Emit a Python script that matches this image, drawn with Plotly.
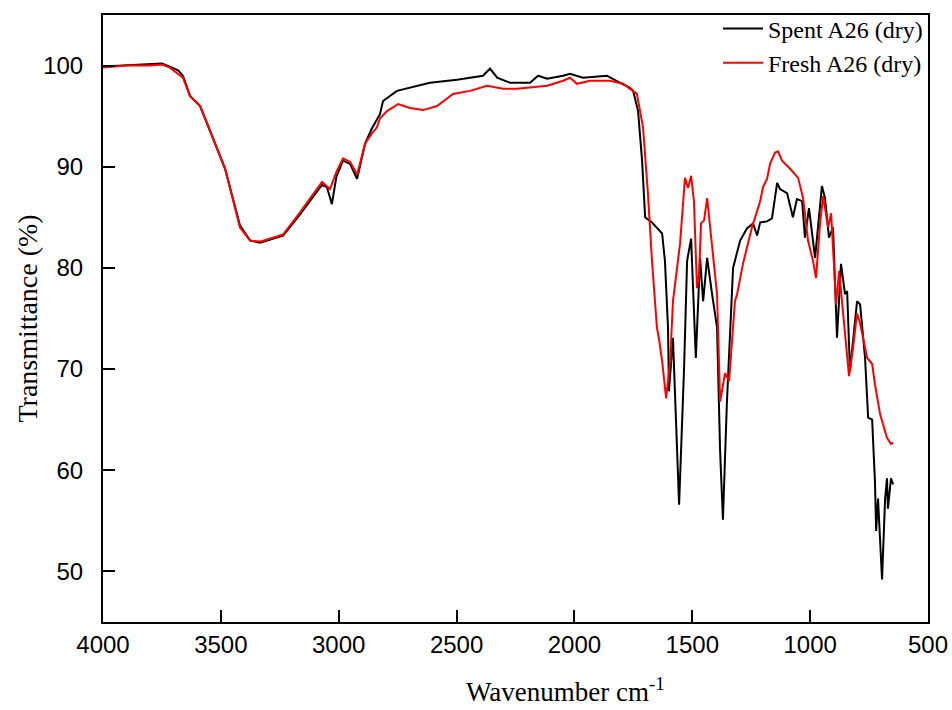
import plotly.graph_objects as go

# Spent A26 (dry) - black
spent_wn = [4000, 3900, 3800, 3750, 3716, 3680, 3661, 3631, 3588, 3546, 3482, 3419, 3376, 3334,
            3236, 3164, 3071, 3050, 3029, 3010, 2982, 2952, 2922, 2888, 2859, 2825, 2812, 2753,
            2668, 2613, 2498, 2388, 2358, 2328, 2273, 2188, 2154, 2116, 2048, 2019, 1964, 1862,
            1806, 1764, 1751, 1730, 1713, 1700, 1671, 1628, 1616, 1603, 1599, 1582, 1556, 1535,
            1522, 1505, 1485, 1467, 1454, 1437, 1416, 1395, 1382, 1370, 1353, 1340, 1327, 1297,
            1268, 1242, 1225, 1212, 1183, 1162, 1140, 1128, 1098, 1073, 1056, 1034, 1022, 1005,
            979, 950, 937, 920, 903, 886, 869, 852, 843, 831, 801, 788, 767, 754, 737, 725, 720,
            712, 695, 682, 674, 670, 657, 648]
spent_t = [99.9, 100.0, 100.1, 100.2, 99.9, 99.5, 99.0, 97.0, 96.0, 93.6, 89.8, 84.2, 82.7, 82.5,
           83.2, 85.3, 88.2, 88.0, 86.3, 89.0, 90.6, 90.3, 88.8, 92.3, 93.8, 95.2, 96.5, 97.5,
           98.0, 98.3, 98.6, 99.0, 99.7, 98.8, 98.3, 98.3, 99.0, 98.7, 99.0, 99.2, 98.8, 99.0,
           98.3, 97.8, 97.5, 95.5, 90.6, 85.0, 84.5, 83.4, 80.7, 74.1, 67.8, 73.1, 56.6, 70.0,
           80.7, 82.9, 71.1, 81.0, 76.7, 81.0, 77.4, 74.1, 61.9, 55.1, 66.8, 73.5, 80.0, 82.7,
           83.9, 84.4, 83.2, 84.5, 84.6, 84.9, 88.4, 87.8, 87.4, 85.0, 86.8, 86.6, 83.0, 85.9,
           81.0, 88.1, 86.9, 83.0, 84.0, 73.1, 80.4, 77.4, 77.7, 69.8, 76.7, 76.4, 71.1, 65.2,
           65.0, 58.9, 54.0, 57.2, 49.2, 57.2, 59.2, 56.2, 59.2, 58.6]

# Fresh A26 (dry) - red
fresh_wn = [4000, 3900, 3800, 3750, 3716, 3661, 3631, 3588, 3546, 3482, 3419, 3376, 3334, 3236,
            3164, 3071, 3037, 3010, 2982, 2952, 2922, 2888, 2859, 2838, 2825, 2795, 2748, 2698,
            2642, 2583, 2515, 2443, 2371, 2303, 2244, 2188, 2116, 2048, 2019, 1989, 1934, 1849,
            1794, 1764, 1735, 1709, 1688, 1671, 1650, 1640, 1628, 1611, 1594, 1582, 1552, 1531,
            1518, 1505, 1493, 1480, 1471, 1463, 1450, 1437, 1416, 1395, 1382, 1361, 1344, 1319,
            1310, 1285, 1247, 1234, 1212, 1200, 1183, 1170, 1149, 1136, 1119, 1085, 1051, 1030,
            1009, 988, 975, 958, 945, 924, 911, 903, 890, 877, 860, 835, 818, 801, 788, 758, 737,
            725, 703, 674, 657, 648]
fresh_t = [99.8, 100.0, 100.0, 100.1, 99.8, 98.8, 97.0, 96.0, 93.6, 89.8, 84.0, 82.7, 82.6, 83.3,
           85.5, 88.5, 87.8, 89.5, 90.8, 90.5, 89.2, 92.3, 93.3, 93.9, 94.8, 95.5, 96.2, 95.8,
           95.6, 96.0, 97.2, 97.5, 98.0, 97.7, 97.7, 97.8, 98.0, 98.5, 98.8, 98.2, 98.5, 98.5,
           98.2, 97.7, 97.2, 93.9, 87.3, 80.7, 74.1, 72.8, 70.8, 67.1, 70.8, 76.7, 82.4, 88.9,
           87.9, 89.1, 86.6, 78.0, 79.4, 84.4, 84.7, 86.9, 82.0, 77.4, 66.8, 69.6, 68.8, 76.7,
           77.4, 80.4, 84.0, 85.0, 86.6, 88.0, 88.8, 90.3, 91.4, 91.5, 90.6, 89.8, 88.9, 86.9,
           82.7, 80.7, 79.0, 84.4, 87.1, 84.0, 85.4, 82.0, 76.4, 79.7, 75.7, 69.3, 72.1, 75.5,
           74.5, 71.1, 70.5, 68.5, 65.5, 63.2, 62.6, 62.7]

x_ticks = [4000, 3500, 3000, 2500, 2000, 1500, 1000, 500]
y_ticks = [50, 60, 70, 80, 90, 100]

fig = go.Figure()
fig.add_trace(go.Scatter(x=spent_wn, y=spent_t, mode="lines", name="Spent A26 (dry)",
                         line=dict(color="black", width=2)))
fig.add_trace(go.Scatter(x=fresh_wn, y=fresh_t, mode="lines", name="Fresh A26 (dry)",
                         line=dict(color="#ff0000", width=2)))

sans = "Liberation Sans, Arial, sans-serif"
serif = "Liberation Serif, Times New Roman, serif"

fig.update_layout(
    width=952, height=710,
    margin=dict(l=103, r=24, t=15, b=88, autoexpand=False),
    paper_bgcolor="white", plot_bgcolor="white",
    showlegend=True,
    legend=dict(x=1.0, y=1.014, xanchor="right", yanchor="top",
                bgcolor="rgba(0,0,0,0)", font=dict(family=serif, size=24, color="black"),
                tracegroupgap=0, itemwidth=40),
    xaxis=dict(range=[4000, 500], tickvals=x_ticks, ticks="inside", ticklen=12, tickwidth=2,
               tickcolor="black", showline=True, linewidth=2, linecolor="black", mirror=True,
               showgrid=False, zeroline=False, automargin=False,
               tickfont=dict(family=sans, size=24, color="black")),
    yaxis=dict(range=[45, 105], tickvals=y_ticks, ticks="inside", ticklen=12, tickwidth=2,
               tickcolor="black", showline=True, linewidth=2, linecolor="black", mirror=True,
               showgrid=False, zeroline=False, ticklabelstandoff=13, automargin=False,
               tickfont=dict(family=sans, size=24, color="black")),
    annotations=[
        dict(text="Wavenumber cm<sup>-1</sup>", xref="paper", yref="paper", x=0.561, y=0,
             xanchor="center", yanchor="middle", yshift=-68, showarrow=False,
             font=dict(family=serif, size=27, color="black")),
        dict(text="Transmittance (%)", xref="paper", yref="paper", x=0, y=0.5,
             xanchor="center", yanchor="middle", xshift=-76, textangle=-90, showarrow=False,
             font=dict(family=serif, size=28, color="black")),
    ],
)

fig.write_html(
    "out.html",
    config={"displayModeBar": False, "responsive": False},
    post_script=("document.body.style.margin='0';"
                 "document.body.style.overflow='hidden';"
                 "document.documentElement.style.overflow='hidden';"),
)
